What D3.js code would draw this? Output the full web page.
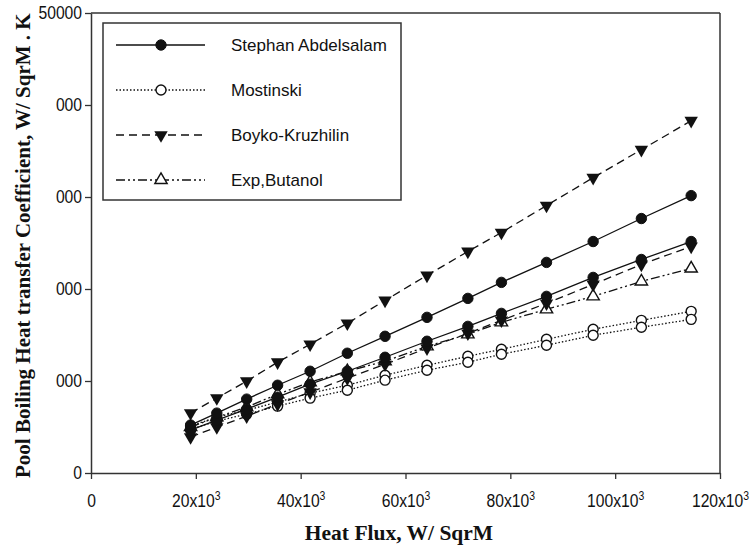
<!DOCTYPE html>
<html><head><meta charset="utf-8">
<script src="https://cdn.jsdelivr.net/npm/d3@7"></script>
<style>
body{margin:0;background:#fff;}
svg{display:block;}
</style></head>
<body><svg id="chart" width="751" height="548"></svg>
<script>
const heatFlux = [19000, 24000, 29700, 35600, 41800, 48900, 56100, 64100, 71900, 78300, 86900, 95800, 105000, 114500];
const stephanUpper = [5210, 6510, 8030, 9540, 11060, 13020, 14860, 16920, 18980, 20720, 22890, 25160, 27660, 30150];
const stephanLower = [4660, 5750, 6940, 8240, 9650, 11060, 12580, 14320, 15940, 17350, 19200, 21260, 23210, 25160];
const mostinskiUpper = [5100, 6070, 6830, 7700, 8680, 9540, 10630, 11710, 12690, 13450, 14530, 15620, 16590, 17570];
const mostinskiLower = [4770, 5640, 6400, 7270, 8140, 9000, 10090, 11170, 12040, 12910, 13880, 14970, 15840, 16700];
const boykoUpper = [6510, 8140, 9980, 12040, 13990, 16270, 18760, 21480, 24080, 26140, 29070, 32100, 35140, 38290];
const boykoLower = [3900, 4990, 6180, 7480, 8790, 10300, 11820, 13560, 15180, 16590, 18440, 20500, 22670, 24620];
const expButanol = [4990, 6070, 7160, 8570, 9870, 11060, 12150, 13770, 15080, 16380, 17790, 19200, 20820, 22230];

const xTicks = [0, 20000, 40000, 60000, 80000, 100000, 120000];
const xTickBase = ["0", "20x10", "40x10", "60x10", "80x10", "100x10", "120x10"];
const yTicks = [0, 10000, 20000, 30000, 40000, 50000];
const yTickLabels = ["0", "000", "000", "000", "000", "50000"];
const legendNames = ["Stephan Abdelsalam", "Mostinski", "Boyko-Kruzhilin", "Exp,Butanol"];
const xTitle = "Heat Flux, W/ SqrM";
const yTitle = "Pool Boiling Heat transfer Coefficient, W/ SqrM . K";

const styles = {
  stephan: {dash: null, marker: "circleFilled"},
  mostinski: {dash: "1.5,2", marker: "circleOpen"},
  boyko: {dash: "8,5", marker: "triDown"},
  exp: {dash: "9,3,2,3,2,3", marker: "triUp"}
};
const seriesList = [
  {vals: mostinskiUpper, st: styles.mostinski},
  {vals: mostinskiLower, st: styles.mostinski},
  {vals: expButanol, st: styles.exp},
  {vals: boykoLower, st: styles.boyko},
  {vals: stephanLower, st: styles.stephan},
  {vals: stephanUpper, st: styles.stephan},
  {vals: boykoUpper, st: styles.boyko}
];

const svg = d3.select("#chart");
const x = d3.scaleLinear().domain([0, 120000]).range([91, 720]);
const y = d3.scaleLinear().domain([0, 50000]).range([473, 13]);
const ink = "#111";
const sansFont = "Liberation Sans, Arial, sans-serif";
const serifFont = "Liberation Serif, Times New Roman, serif";
const squeeze = 0.87;

function drawMarker(g, type, cx, cy) {
  if (type === "circleFilled") {
    g.append("circle").attr("cx", cx).attr("cy", cy).attr("r", 5.2).attr("fill", ink).attr("stroke", ink);
  } else if (type === "circleOpen") {
    g.append("circle").attr("cx", cx).attr("cy", cy).attr("r", 5).attr("fill", "#fff").attr("stroke", ink).attr("stroke-width", 1.4);
  } else if (type === "triDown") {
    g.append("path").attr("d", d3.symbol(d3.symbolTriangle, 78)()).attr("transform", `translate(${cx},${cy}) rotate(180)`).attr("fill", ink);
  } else {
    g.append("path").attr("d", d3.symbol(d3.symbolTriangle, 66)()).attr("transform", `translate(${cx},${cy})`).attr("fill", "#fff").attr("stroke", ink).attr("stroke-width", 1.4);
  }
}

// frame top & right
svg.append("line").attr("x1", x(0)).attr("x2", x(120000)).attr("y1", y(50000)).attr("y2", y(50000)).attr("stroke", "#333").attr("stroke-width", 1.5);
svg.append("line").attr("x1", x(120000)).attr("x2", x(120000)).attr("y1", y(50000)).attr("y2", y(0)).attr("stroke", "#333").attr("stroke-width", 1.5);

// axes
const xAxis = svg.append("g").attr("transform", `translate(0,${y(0)})`)
  .call(d3.axisBottom(x).tickValues(xTicks).tickSize(6).tickSizeOuter(0).tickFormat(""));
const yAxis = svg.append("g").attr("transform", `translate(${x(0)},0)`)
  .call(d3.axisLeft(y).tickValues(yTicks).tickSize(6).tickSizeOuter(0).tickFormat((d, i) => yTickLabels[i]));
[xAxis, yAxis].forEach(a => {
  a.select(".domain").attr("stroke", "#333").attr("stroke-width", 1.5);
  a.selectAll(".tick line").attr("stroke", "#333").attr("stroke-width", 1.3);
});
yAxis.selectAll(".tick text").attr("font-family", sansFont).attr("font-size", 18).attr("fill", ink)
  .attr("x", -9 / squeeze).attr("transform", `scale(${squeeze},1)`);

xAxis.selectAll(".tick").each(function(d, i) {
  const t = d3.select(this).append("text").attr("y", 34).attr("text-anchor", "middle")
    .attr("transform", `scale(${squeeze},1)`)
    .attr("font-family", sansFont).attr("font-size", 18).attr("fill", ink);
  t.append("tspan").text(xTickBase[i]);
  if (i > 0) t.append("tspan").attr("font-size", 12).attr("dy", -7).text("3");
});

// axis titles
svg.append("text").attr("x", 399).attr("y", 540).attr("text-anchor", "middle")
  .attr("font-family", serifFont).attr("font-weight", "bold").attr("font-size", 21.5).attr("fill", ink).text(xTitle);
svg.append("text").attr("transform", "translate(30,478) rotate(-90)").attr("text-anchor", "start")
  .attr("font-family", serifFont).attr("font-weight", "bold").attr("font-size", 21).attr("fill", ink).text(yTitle);

// series
const line = d3.line().x((d, i) => x(heatFlux[i])).y(d => y(d));
seriesList.forEach(s => {
  svg.append("path").datum(s.vals).attr("d", line).attr("fill", "none").attr("stroke", ink)
    .attr("stroke-width", 1.3).attr("stroke-dasharray", s.st.dash);
});
seriesList.forEach(s => {
  const g = svg.append("g");
  s.vals.forEach((v, i) => drawMarker(g, s.st.marker, x(heatFlux[i]), y(v)));
});

// legend
const leg = svg.append("g");
leg.append("rect").attr("x", 103).attr("y", 23).attr("width", 298).attr("height", 177).attr("fill", "#fff").attr("stroke", "#333").attr("stroke-width", 1.5);
const legStyles = [styles.stephan, styles.mostinski, styles.boyko, styles.exp];
legendNames.forEach((name, i) => {
  const cy = 45 + i * 45;
  leg.append("line").attr("x1", 116).attr("x2", 205).attr("y1", cy).attr("y2", cy).attr("stroke", ink).attr("stroke-width", 1.3).attr("stroke-dasharray", legStyles[i].dash);
  drawMarker(leg, legStyles[i].marker, 161, cy);
  leg.append("text").attr("x", 231).attr("y", cy + 6).attr("font-family", sansFont).attr("font-size", 17).attr("fill", ink).text(name);
});
</script></body></html>
